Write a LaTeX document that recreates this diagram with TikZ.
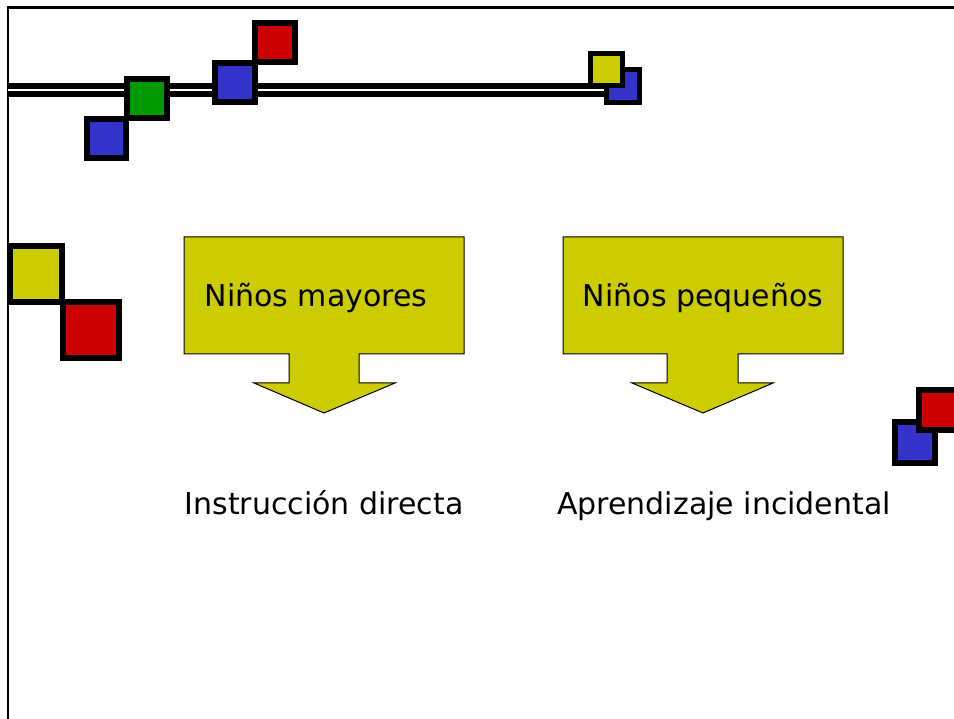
\documentclass[tikz,border=0pt]{standalone}
\usepackage{fontspec}
\setmainfont{DejaVu Sans}
\definecolor{sqyellow}{HTML}{CCCC00}
\definecolor{sqred}{HTML}{CC0000}
\definecolor{sqblue}{HTML}{3333CC}
\definecolor{sqgreen}{HTML}{009900}
\tikzset{
  sq/.style={draw=black, line width=6pt, line join=miter},
  sqs/.style={draw=black, line width=5pt, line join=miter},
  callout/.style={fill=sqyellow, draw=black, line width=1pt, line join=miter},
  lbl/.style={font=\fontsize{30}{36}\selectfont, inner sep=0pt, anchor=base},
  frame/.style={draw=black, line width=2.5pt}
}
\begin{document}
\begin{tikzpicture}[x=1pt, y=-1pt]
\useasboundingbox (0,0) rectangle (954,719);
\fill[white] (0,0) rectangle (954,719);
% frame
\coordinate (tl) at (8,7.5);
\coordinate (tr) at (954,7.5);
\coordinate (bl) at (8,719);
\draw[frame] (tr) -- (tl) -- (bl);
% double line
\coordinate (dl1) at (8,89.7);
\coordinate (dl2) at (612,89.7);
\draw[black, line width=14pt] (dl1) -- (dl2);
\draw[white, line width=2pt] (dl1) -- (dl2);
% top-left squares
\draw[sq, fill=sqblue] (87,119) rectangle (126,158);
\draw[sq, fill=sqgreen] (127,79) rectangle (167,118);
\draw[sq, fill=sqblue] (215,63) rectangle (255,102);
\draw[sq, fill=sqred] (255,23) rectangle (295,62);
% top-right small squares
\draw[sqs, fill=sqblue] (606.5,69.5) rectangle (639.5,102.5);
\draw[sqs, fill=sqyellow] (590.5,53.5) rectangle (622.5,85.5);
% left squares
\draw[sq, fill=sqyellow] (10,246) rectangle (62,302);
\draw[sq, fill=sqred] (63,302) rectangle (119,358);
% right squares
\draw[sq, fill=sqblue] (895,422) rectangle (935,463);
\draw[sq, fill=sqred] (919,390) rectangle (959,430);
% callouts
\draw[callout] (184,237) -- (464,237) -- (464,354) -- (359,354) -- (359,383) -- (395,383)
  -- (324,413) -- (254,383) -- (289,383) -- (289,354) -- (184,354) -- cycle;
\draw[callout] (563,237) -- (843,237) -- (843,354) -- (738,354) -- (738,383) -- (773,383)
  -- (703,413) -- (632,383) -- (667,383) -- (667,354) -- (563,354) -- cycle;
% texts
\node[lbl] (t1) at (316,307) {Niños mayores};
\node[lbl] (t2) at (703,307) {Niños pequeños};
\node[lbl] (t3) at (324,514) {Instrucción directa};
\node[lbl] (t4) at (724,514) {Aprendizaje incidental};
\end{tikzpicture}
\end{document}
